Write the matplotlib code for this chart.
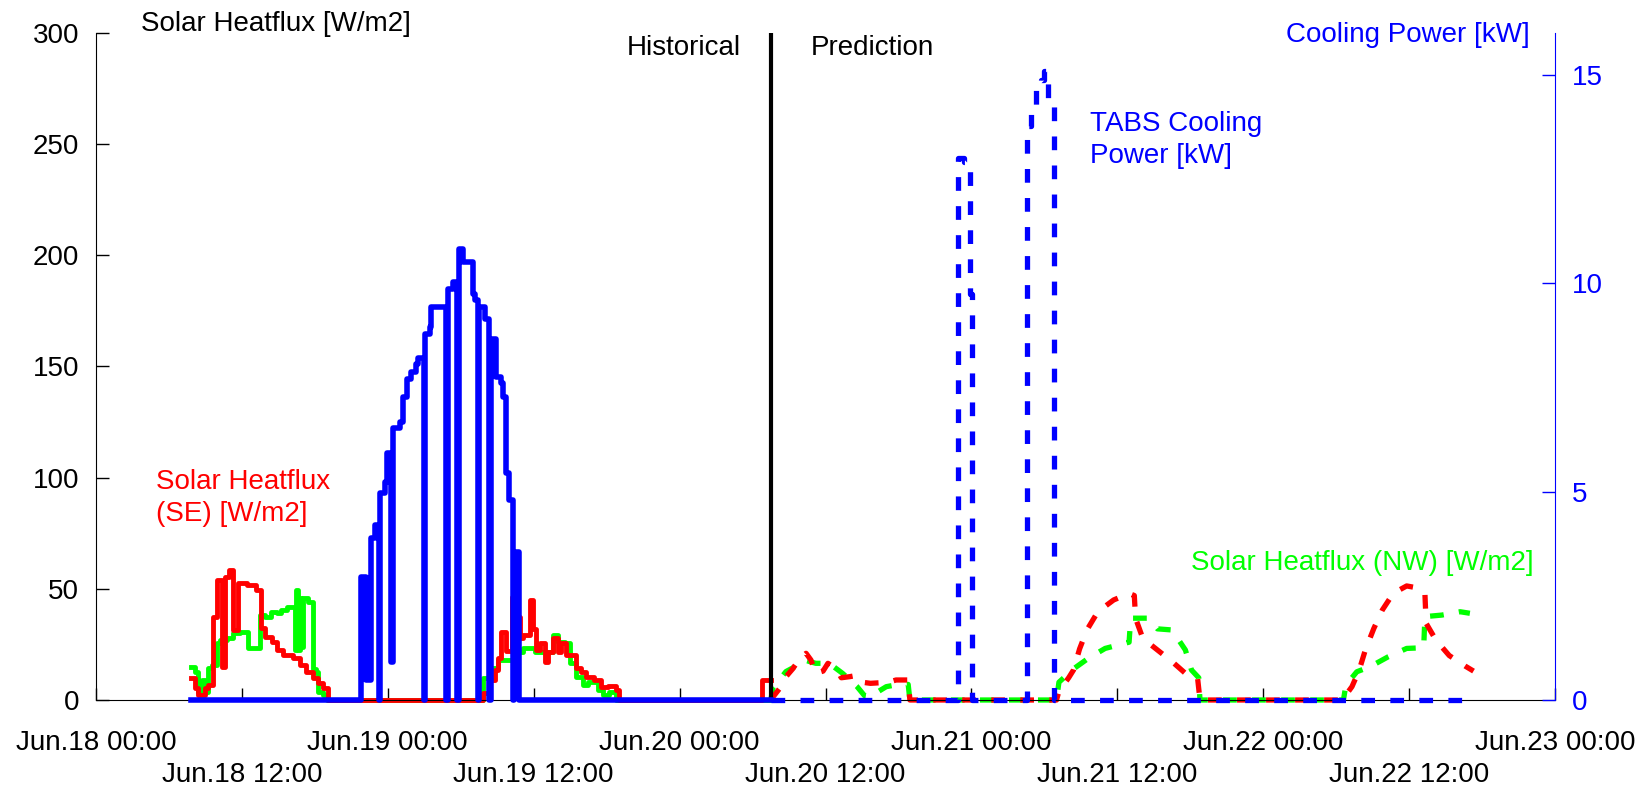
import matplotlib
matplotlib.use("Agg")
import matplotlib.pyplot as plt
import matplotlib.dates as mdates
import numpy as np
import pandas as pd

plt.rcParams['font.family'] = ['Liberation Sans', 'DejaVu Sans']

# hours since Jun.18 00:00; historical series are step values (held until next time)
hist_se_t = [7.85, 8.13, 8.41, 8.96, 9.23, 9.64, 9.92, 10.33, 10.60, 10.96, 11.28, 11.70,
             12.38, 13.20, 13.61, 13.88, 14.44, 14.85, 15.39, 16.20, 16.76, 17.30, 17.86,
             18.27, 18.68, 19.09, 31.80, 32.38, 32.79, 33.06, 33.34, 33.74, 34.25, 34.56,
             34.84, 35.12, 35.66, 35.94, 36.21, 36.49, 36.90, 37.17, 37.58, 38.00, 38.27,
             38.68, 39.50, 39.90, 40.30, 41.00, 41.55, 42.10, 42.80, 43.00, 54.80, 55.50]
hist_se = [9.7, 5.2, 2.2, 5.2, 6.7, 37.5, 54, 15, 55.5, 58.5, 31.5, 52.7,
           51.7, 49.5, 32.2, 28.5, 26.2, 22.5, 20.3, 18.7, 15.7, 12.7, 9.7,
           7.5, 5.2, 0, 3, 9, 13.5, 18.7, 30.7, 22, 46.5, 37.5,
           27.7, 29.2, 45, 32, 22.5, 25.5, 17.2, 21.7, 27.7, 21.7, 25.5,
           20.2, 14.2, 12.7, 10.5, 9, 6, 6.3, 4.5, 0, 9, 9]

hist_nw_t = [7.85, 8.13, 8.41, 8.68, 8.96, 9.23, 9.50, 9.92, 10.19, 10.74, 11.28, 11.83,
             12.52, 13.47, 13.88, 14.43, 14.85, 15.25, 15.67, 16.35, 16.49, 16.63, 16.76,
             16.90, 17.03, 17.45, 17.86, 18.13, 18.27, 18.68, 18.96, 31.83, 32.38, 33.06,
             34.29, 35.12, 36.07, 37.58, 38.00, 38.54, 38.95, 39.50, 40.03, 40.44, 41.28,
             41.69, 42.23, 42.80, 55.50]
hist_nw = [15, 12.7, 3.7, 9, 3.7, 14.2, 15.7, 25.5, 27, 27.7, 30, 30.7,
           23.2, 38.2, 37.5, 39.7, 39, 40.5, 42, 22.5, 49.5, 22.5, 45.7,
           24, 45.7, 44.2, 14, 12.7, 3.7, 2.2, 0, 9.7, 14.2, 18,
           21.7, 23.2, 21.7, 29.2, 26.2, 25.5, 16.5, 10.5, 6.7, 8.2, 4.5,
           2.2, 3.7, 0, 0]

hist_cool_t = [7.85, 21.83, 22.24, 22.65, 22.93, 23.25, 23.35, 23.74, 23.94, 24.30, 24.43,
               24.98, 25.25, 25.58, 25.94, 26.29, 26.50, 27.00, 27.10, 27.44, 27.58, 28.80,
               28.92, 29.36, 29.72, 29.82, 30.19, 31.00, 31.20, 31.42, 31.52, 31.96, 32.35,
               32.45, 32.92, 33.34, 33.50, 33.75, 34.00, 34.30, 34.40, 34.80, 55.50]
hist_cool = [0, 2.96, 0.48, 3.88, 4.2, 0, 4.96, 5.24, 5.92, 0.92, 6.52,
             6.68, 7.27, 7.71, 7.87, 8.07, 8.2, 0, 8.79, 8.95, 9.43, 0,
             9.87, 10.03, 0, 10.81, 10.51, 9.75, 9.59, 0, 9.43, 9.15, 0,
             8.67, 7.75, 7.6, 7.27, 5.44, 4.8, 0, 3.56, 0, 0]

# predicted solar heatflux (line vertices)
pred_se_t = [55.5, 55.7, 56.2, 56.75, 57.3, 57.8, 58.4, 58.8, 59.2, 59.8, 60.2, 60.9,
             61.3, 62.0, 62.5, 63.0, 63.7, 65.2, 65.8, 66.8, 66.94, 79.0, 79.2, 80.0,
             80.4, 80.9, 81.5, 82.4, 83.7, 84.97, 85.4, 85.5, 86.1, 87.3, 88.5, 89.6,
             90.6, 90.8, 102.5, 103.3, 103.9, 104.4, 105.1, 105.8, 106.7, 107.8, 108.6,
             109.3, 109.4, 110.2, 111.3, 112.6, 113.3]
pred_se = [0, 1.5, 5, 10.5, 14, 18, 21, 18, 12, 13, 16.5, 14,
           10, 10.5, 11, 8, 7.5, 8, 9, 9, 0, 0, 4, 10,
           13.5, 23, 31.5, 39.7, 45, 47.9, 47, 36.8, 27.7, 22.5, 17.3, 12,
           10, 0, 0, 6, 13.5, 22.5, 32.2, 40.5, 48, 51.3, 50.5,
           48, 34.5, 27, 20, 15.3, 13]

pred_nw_t = [55.5, 55.7, 56.2, 56.75, 57.5, 58.25, 59.2, 60.3, 61.4, 62.0, 62.6, 63.2,
             63.8, 64.4, 65.0, 66.0, 66.8, 66.94, 79.0, 79.2, 80.4, 81.6, 83.0, 84.97,
             85.1, 86.6, 87.3, 88.5, 89.6, 90.1, 90.7, 90.8, 102.6, 102.8, 103.7, 104.8,
             106.3, 107.8, 109.2, 109.3, 110.7, 112.2, 113.0]
pred_nw = [0, 6, 9, 12.8, 15, 18, 16.5, 16.5, 12, 9, 6, 2,
           1.5, 4, 6, 7, 7, 0, 0, 8, 14, 18.7, 23.2, 26,
           36.8, 36.8, 32, 31.5, 22.5, 13.5, 10, 0, 0, 6.7, 12.7, 15,
           19.5, 23.2, 23.5, 37.5, 38.2, 39.7, 39]

# predicted cooling power (step values)
pred_cool_t = [55.5, 70.86, 71.4, 71.87, 72.09, 76.6, 76.9, 77.3, 77.7, 78.0, 78.3, 78.8, 113.3]
pred_cool = [0, 13.0, 12.9, 9.74, 0, 13.77, 14.2, 14.68, 14.88, 15.08, 14.38, 0, 0]

split_h = 55.5
start = pd.Timestamp('2019-06-18 00:00')


def to_time(hours):
    return start + pd.to_timedelta(np.asarray(hours, dtype=float), unit='h')


RED = '#ff0000'
GREEN = '#00ff00'
BLUE = '#0000ff'
FS = 20

fig = plt.figure(figsize=(16.41, 7.95), dpi=100)
ax = fig.add_axes([96 / 1641, 95 / 795, 1459 / 1641, 667 / 795])
ax2 = ax.twinx()

solid = dict(drawstyle='steps-post', clip_on=False, solid_joinstyle='round')
dashed = dict(clip_on=False, dashes=(2.6, 2.9))

ax.plot(to_time(hist_nw_t), hist_nw, color=GREEN, lw=3.5, **solid)
ax.plot(to_time(hist_se_t), hist_se, color=RED, lw=3.5, **solid)
ax.plot(to_time(pred_nw_t), pred_nw, color=GREEN, lw=3.8, **dashed)
ax.plot(to_time(pred_se_t), pred_se, color=RED, lw=3.8, **dashed)
ax.axvline(to_time([split_h])[0], color='black', lw=3)

ax2.plot(to_time(hist_cool_t), hist_cool, color=BLUE, lw=4, **solid)
ax2.plot(to_time(pred_cool_t), pred_cool, color=BLUE, lw=3.8, drawstyle='steps-post', **dashed)

ax.set_xlim(start, start + pd.Timedelta(days=5))
ax.set_ylim(0, 300)
ax2.set_ylim(0, 16)

ax.xaxis.set_major_locator(mdates.HourLocator(byhour=[0]))
ax.xaxis.set_minor_locator(mdates.HourLocator(byhour=[12]))
fmt = mdates.DateFormatter('%b.%d %H:%M')
ax.xaxis.set_major_formatter(fmt)
ax.xaxis.set_minor_formatter(fmt)
ax.tick_params(axis='x', which='major', direction='in', length=9, width=1, pad=21.6, labelsize=FS)
ax.tick_params(axis='x', which='minor', direction='in', length=9, width=1, pad=44.6, labelsize=FS)

ax.set_yticks([0, 50, 100, 150, 200, 250, 300])
ax.tick_params(axis='y', direction='in', length=9.4, width=1, pad=12, labelsize=FS)
ax2.set_yticks([0, 5, 10, 15])
ax2.tick_params(axis='y', direction='in', length=9.4, width=1, pad=12, labelsize=FS,
                colors=BLUE)

for s in ['top', 'right']:
    ax.spines[s].set_visible(False)
for s in ['top', 'left', 'bottom']:
    ax2.spines[s].set_visible(False)
ax2.spines['right'].set_color(BLUE)

fig.text(141 / 1641, 1 - 24 / 795, 'Solar Heatflux [W/m2]', fontsize=FS, va='center')
fig.text(1530 / 1641, 1 - 35 / 795, 'Cooling Power [kW]', fontsize=FS, color=BLUE,
         va='center', ha='right')
fig.text(741 / 1641, 1 - 48 / 795, 'Historical', fontsize=FS, va='center', ha='right')
fig.text(811 / 1641, 1 - 48 / 795, 'Prediction', fontsize=FS, va='center', ha='left')
fig.text(156 / 1641, 1 - 498 / 795, 'Solar Heatflux\n(SE) [W/m2]', fontsize=FS,
         color=RED, va='center', linespacing=1.3)
fig.text(1090 / 1641, 1 - 140 / 795, 'TABS Cooling\nPower [kW]', fontsize=FS,
         color=BLUE, va='center', linespacing=1.3)
fig.text(1534 / 1641, 1 - 563 / 795, 'Solar Heatflux (NW) [W/m2]', fontsize=FS,
         color=GREEN, va='center', ha='right')

fig.savefig('out.png', dpi=100)
